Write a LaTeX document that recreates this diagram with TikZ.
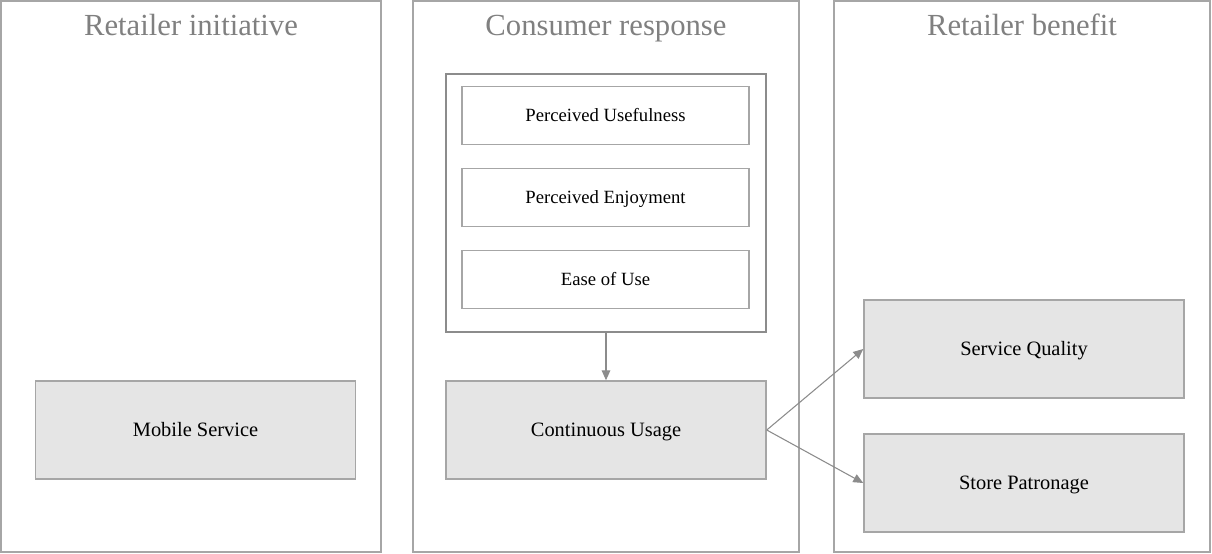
\documentclass[tikz,border=0pt]{standalone}
\usepackage{xcolor}
\usepackage{fontspec}
\setmainfont{Liberation Serif}
\usepackage{tikz}
\usetikzlibrary{arrows.meta}

\definecolor{linegray}{HTML}{A6A6A6}
\definecolor{arrowgray}{HTML}{8C8C8C}
\definecolor{boxfill}{HTML}{E5E5E5}
\definecolor{titlegray}{HTML}{808080}

\tikzset{
  panel/.style={draw=linegray, line width=1.1pt},
  paneltitle/.style={text=titlegray, font=\fontsize{23}{27}\selectfont,
    anchor=base, inner sep=0pt},
  factor/.style={draw=linegray, line width=1.1pt, fill=boxfill,
    minimum width=240pt, minimum height=73.5pt, inner sep=0pt,
    text height=0.95em, text depth=0pt,
    font=\fontsize{15.3}{18}\selectfont},
  subfactor/.style={draw=linegray, line width=1.1pt, fill=white,
    minimum width=215.25pt, minimum height=43.5pt, inner sep=0pt,
    text height=0.85em, text depth=0pt,
    font=\fontsize{14}{17}\selectfont},
  link/.style={draw=arrowgray, line width=0.8pt,
    -{Triangle[length=7.5pt, width=6.5pt]}}
}

\begin{document}
\begin{tikzpicture}[x=0.75pt, y=-0.75pt]
\useasboundingbox (0,0) rectangle (1212,553);
  \draw[panel] (1,1) rectangle (381,552);
  \draw[panel] (413,1) rectangle (799,552);
  \draw[panel] (834,1) rectangle (1210,552);
  \node[paneltitle] (tinit) at (191,35) {Retailer initiative};
  \node[paneltitle] (tresp) at (606,35) {Consumer response};
  \node[paneltitle] (tbene) at (1022,35) {Retailer benefit};

  \node[draw=arrowgray, line width=1.1pt, minimum width=240pt,
    minimum height=193.5pt, inner sep=0pt] (group) at (606,203) {};
  \node[subfactor] (useful) at (605.5,115.5) {Perceived Usefulness};
  \node[subfactor] (enjoy) at (605.5,197.5) {Perceived Enjoyment};
  \node[subfactor] (ease) at (605.5,279.5) {Ease of Use};

  \node[factor] (mobile) at (195.5,430) {Mobile Service};
  \node[factor] (usage) at (606,430) {Continuous Usage};
  \node[factor] (quality) at (1024,349) {Service Quality};
  \node[factor] (patron) at (1024,483) {Store Patronage};

  \draw[link] (group.south) -- (usage.north);
  \draw[link] (usage.east) -- (quality.west);
  \draw[link] (usage.east) -- (patron.west);
\end{tikzpicture}
\end{document}
